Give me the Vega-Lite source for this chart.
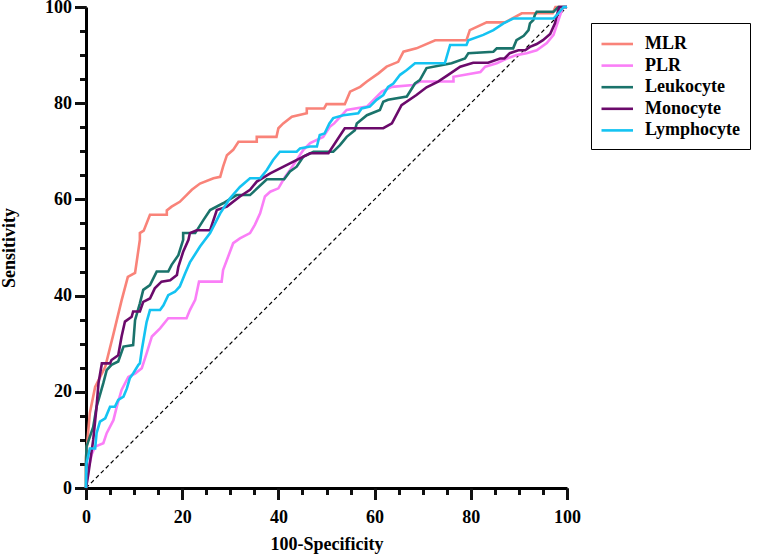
{
  "$schema": "https://vega.github.io/schema/vega-lite/v6.json",
  "autosize": "none",
  "padding": {"left": 86, "top": 7, "right": 201, "bottom": 68},
  "width": 481,
  "height": 481,
  "background": "white",
  "datasets": {
    "diag": [{"fpr": 0, "tpr": 0}, {"fpr": 100, "tpr": 100}],
    "roc": [
      {"series": "MLR", "fpr": 0, "tpr": 0}, {"series": "MLR", "fpr": 0, "tpr": 6.4}, {"series": "MLR", "fpr": 0.8, "tpr": 15.6}, {"series": "MLR", "fpr": 1.9, "tpr": 21}, {"series": "MLR", "fpr": 4, "tpr": 25.2}, {"series": "MLR", "fpr": 5.7, "tpr": 32}, {"series": "MLR", "fpr": 7.4, "tpr": 39}, {"series": "MLR", "fpr": 8.7, "tpr": 43.9}, {"series": "MLR", "fpr": 10.2, "tpr": 44.7}, {"series": "MLR", "fpr": 11.2, "tpr": 51.6}, {"series": "MLR", "fpr": 11.2, "tpr": 53}, {"series": "MLR", "fpr": 12, "tpr": 53.5}, {"series": "MLR", "fpr": 13.3, "tpr": 56.8}, {"series": "MLR", "fpr": 16.8, "tpr": 56.8}, {"series": "MLR", "fpr": 16.8, "tpr": 57.7}, {"series": "MLR", "fpr": 17.8, "tpr": 58.5}, {"series": "MLR", "fpr": 19.5, "tpr": 59.5}, {"series": "MLR", "fpr": 20.9, "tpr": 60.9}, {"series": "MLR", "fpr": 22, "tpr": 62}, {"series": "MLR", "fpr": 23.7, "tpr": 63.3}, {"series": "MLR", "fpr": 26.5, "tpr": 64.4}, {"series": "MLR", "fpr": 27.9, "tpr": 64.7}, {"series": "MLR", "fpr": 28.5, "tpr": 66.8}, {"series": "MLR", "fpr": 29.3, "tpr": 69.2}, {"series": "MLR", "fpr": 30.6, "tpr": 70.3}, {"series": "MLR", "fpr": 31.7, "tpr": 72}, {"series": "MLR", "fpr": 35.5, "tpr": 72}, {"series": "MLR", "fpr": 35.5, "tpr": 73}, {"series": "MLR", "fpr": 39.6, "tpr": 73}, {"series": "MLR", "fpr": 40, "tpr": 74.8}, {"series": "MLR", "fpr": 41, "tpr": 75.8}, {"series": "MLR", "fpr": 42.8, "tpr": 77.2}, {"series": "MLR", "fpr": 45.9, "tpr": 77.9}, {"series": "MLR", "fpr": 45.9, "tpr": 78.9}, {"series": "MLR", "fpr": 49.5, "tpr": 78.9}, {"series": "MLR", "fpr": 50, "tpr": 79.8}, {"series": "MLR", "fpr": 53.8, "tpr": 79.8}, {"series": "MLR", "fpr": 54.9, "tpr": 82.4}, {"series": "MLR", "fpr": 57, "tpr": 83.4}, {"series": "MLR", "fpr": 58.4, "tpr": 84.5}, {"series": "MLR", "fpr": 60.8, "tpr": 86.2}, {"series": "MLR", "fpr": 62.5, "tpr": 87.6}, {"series": "MLR", "fpr": 64.9, "tpr": 88.6}, {"series": "MLR", "fpr": 66, "tpr": 90.7}, {"series": "MLR", "fpr": 68.7, "tpr": 91.4}, {"series": "MLR", "fpr": 72.6, "tpr": 93.1}, {"series": "MLR", "fpr": 79.1, "tpr": 93.1}, {"series": "MLR", "fpr": 79.8, "tpr": 95.2}, {"series": "MLR", "fpr": 83.3, "tpr": 96.8}, {"series": "MLR", "fpr": 87.1, "tpr": 96.8}, {"series": "MLR", "fpr": 90.6, "tpr": 98.7}, {"series": "MLR", "fpr": 97, "tpr": 98.7}, {"series": "MLR", "fpr": 97.6, "tpr": 100}, {"series": "MLR", "fpr": 100, "tpr": 100},

      {"series": "PLR", "fpr": 0, "tpr": 0}, {"series": "PLR", "fpr": 0.5, "tpr": 4}, {"series": "PLR", "fpr": 1.2, "tpr": 7}, {"series": "PLR", "fpr": 1.9, "tpr": 8.6}, {"series": "PLR", "fpr": 3.6, "tpr": 9.3}, {"series": "PLR", "fpr": 4.3, "tpr": 11.4}, {"series": "PLR", "fpr": 5.7, "tpr": 14.1}, {"series": "PLR", "fpr": 6.4, "tpr": 16.9}, {"series": "PLR", "fpr": 7.4, "tpr": 20.4}, {"series": "PLR", "fpr": 8.8, "tpr": 23.1}, {"series": "PLR", "fpr": 10.2, "tpr": 23.8}, {"series": "PLR", "fpr": 11.6, "tpr": 24.9}, {"series": "PLR", "fpr": 12.6, "tpr": 28}, {"series": "PLR", "fpr": 13.7, "tpr": 31.5}, {"series": "PLR", "fpr": 15.4, "tpr": 33.2}, {"series": "PLR", "fpr": 17.1, "tpr": 35.3}, {"series": "PLR", "fpr": 20.9, "tpr": 35.3}, {"series": "PLR", "fpr": 21.6, "tpr": 37}, {"series": "PLR", "fpr": 22.7, "tpr": 39.1}, {"series": "PLR", "fpr": 23.5, "tpr": 42.9}, {"series": "PLR", "fpr": 28.2, "tpr": 42.9}, {"series": "PLR", "fpr": 28.5, "tpr": 45.3}, {"series": "PLR", "fpr": 30.6, "tpr": 50.9}, {"series": "PLR", "fpr": 32, "tpr": 51.9}, {"series": "PLR", "fpr": 34.1, "tpr": 53}, {"series": "PLR", "fpr": 35.1, "tpr": 54.7}, {"series": "PLR", "fpr": 36.2, "tpr": 57.1}, {"series": "PLR", "fpr": 37.2, "tpr": 60.6}, {"series": "PLR", "fpr": 38.3, "tpr": 61.6}, {"series": "PLR", "fpr": 40, "tpr": 62.3}, {"series": "PLR", "fpr": 41.4, "tpr": 64.7}, {"series": "PLR", "fpr": 42.4, "tpr": 66.1}, {"series": "PLR", "fpr": 43.8, "tpr": 68.2}, {"series": "PLR", "fpr": 45.2, "tpr": 70.3}, {"series": "PLR", "fpr": 46.6, "tpr": 71.7}, {"series": "PLR", "fpr": 49.3, "tpr": 73}, {"series": "PLR", "fpr": 50.7, "tpr": 75.1}, {"series": "PLR", "fpr": 51.6, "tpr": 75.8}, {"series": "PLR", "fpr": 54.2, "tpr": 78.6}, {"series": "PLR", "fpr": 58.4, "tpr": 79.3}, {"series": "PLR", "fpr": 61.5, "tpr": 82.4}, {"series": "PLR", "fpr": 63.6, "tpr": 83.4}, {"series": "PLR", "fpr": 68, "tpr": 83.8}, {"series": "PLR", "fpr": 69.4, "tpr": 84.5}, {"series": "PLR", "fpr": 76.4, "tpr": 84.5}, {"series": "PLR", "fpr": 76.4, "tpr": 85.5}, {"series": "PLR", "fpr": 82, "tpr": 86.5}, {"series": "PLR", "fpr": 83, "tpr": 87.6}, {"series": "PLR", "fpr": 85.4, "tpr": 88.3}, {"series": "PLR", "fpr": 87.5, "tpr": 89.3}, {"series": "PLR", "fpr": 89.5, "tpr": 90}, {"series": "PLR", "fpr": 91.6, "tpr": 90.4}, {"series": "PLR", "fpr": 93.7, "tpr": 91}, {"series": "PLR", "fpr": 95.8, "tpr": 92.5}, {"series": "PLR", "fpr": 97.2, "tpr": 94.2}, {"series": "PLR", "fpr": 98, "tpr": 96.6}, {"series": "PLR", "fpr": 98.7, "tpr": 98.7}, {"series": "PLR", "fpr": 99.2, "tpr": 100}, {"series": "PLR", "fpr": 100, "tpr": 100},

      {"series": "Leukocyte", "fpr": 0, "tpr": 0}, {"series": "Leukocyte", "fpr": 0, "tpr": 5}, {"series": "Leukocyte", "fpr": 0.1, "tpr": 8.6}, {"series": "Leukocyte", "fpr": 1.5, "tpr": 12.7}, {"series": "Leukocyte", "fpr": 2.2, "tpr": 16.9}, {"series": "Leukocyte", "fpr": 3.6, "tpr": 21.8}, {"series": "Leukocyte", "fpr": 4.3, "tpr": 24.5}, {"series": "Leukocyte", "fpr": 5.3, "tpr": 25.6}, {"series": "Leukocyte", "fpr": 6.7, "tpr": 26.3}, {"series": "Leukocyte", "fpr": 7.8, "tpr": 29.4}, {"series": "Leukocyte", "fpr": 9.8, "tpr": 29.7}, {"series": "Leukocyte", "fpr": 10.2, "tpr": 34.9}, {"series": "Leukocyte", "fpr": 11.2, "tpr": 38.4}, {"series": "Leukocyte", "fpr": 11.9, "tpr": 41.2}, {"series": "Leukocyte", "fpr": 13.3, "tpr": 42.2}, {"series": "Leukocyte", "fpr": 14.7, "tpr": 45}, {"series": "Leukocyte", "fpr": 17.1, "tpr": 45}, {"series": "Leukocyte", "fpr": 17.8, "tpr": 46.4}, {"series": "Leukocyte", "fpr": 19.2, "tpr": 48.4}, {"series": "Leukocyte", "fpr": 20.2, "tpr": 51.6}, {"series": "Leukocyte", "fpr": 20.2, "tpr": 53}, {"series": "Leukocyte", "fpr": 22.7, "tpr": 53}, {"series": "Leukocyte", "fpr": 24.4, "tpr": 55.7}, {"series": "Leukocyte", "fpr": 25.8, "tpr": 57.8}, {"series": "Leukocyte", "fpr": 28.5, "tpr": 59.2}, {"series": "Leukocyte", "fpr": 31.3, "tpr": 60.9}, {"series": "Leukocyte", "fpr": 34.1, "tpr": 60.9}, {"series": "Leukocyte", "fpr": 37.6, "tpr": 64.2}, {"series": "Leukocyte", "fpr": 41.2, "tpr": 64.2}, {"series": "Leukocyte", "fpr": 42.4, "tpr": 65.8}, {"series": "Leukocyte", "fpr": 43.8, "tpr": 66.8}, {"series": "Leukocyte", "fpr": 45.2, "tpr": 68.9}, {"series": "Leukocyte", "fpr": 47.3, "tpr": 69.9}, {"series": "Leukocyte", "fpr": 51.4, "tpr": 69.9}, {"series": "Leukocyte", "fpr": 52.8, "tpr": 71.3}, {"series": "Leukocyte", "fpr": 54.2, "tpr": 73}, {"series": "Leukocyte", "fpr": 55.9, "tpr": 74.4}, {"series": "Leukocyte", "fpr": 56.3, "tpr": 75.8}, {"series": "Leukocyte", "fpr": 58.4, "tpr": 77.5}, {"series": "Leukocyte", "fpr": 61.1, "tpr": 78.6}, {"series": "Leukocyte", "fpr": 61.8, "tpr": 80.3}, {"series": "Leukocyte", "fpr": 62.8, "tpr": 80.7}, {"series": "Leukocyte", "fpr": 66.7, "tpr": 81.4}, {"series": "Leukocyte", "fpr": 68.4, "tpr": 84.1}, {"series": "Leukocyte", "fpr": 69.4, "tpr": 84.8}, {"series": "Leukocyte", "fpr": 70.8, "tpr": 87.3}, {"series": "Leukocyte", "fpr": 76, "tpr": 88.3}, {"series": "Leukocyte", "fpr": 78.8, "tpr": 89.3}, {"series": "Leukocyte", "fpr": 79.5, "tpr": 90.4}, {"series": "Leukocyte", "fpr": 84.7, "tpr": 90.7}, {"series": "Leukocyte", "fpr": 85.4, "tpr": 91.4}, {"series": "Leukocyte", "fpr": 88.8, "tpr": 91.4}, {"series": "Leukocyte", "fpr": 89.5, "tpr": 93.1}, {"series": "Leukocyte", "fpr": 91, "tpr": 94}, {"series": "Leukocyte", "fpr": 92, "tpr": 95.2}, {"series": "Leukocyte", "fpr": 92.3, "tpr": 96.6}, {"series": "Leukocyte", "fpr": 93, "tpr": 97.3}, {"series": "Leukocyte", "fpr": 93.3, "tpr": 98.3}, {"series": "Leukocyte", "fpr": 93.7, "tpr": 99}, {"series": "Leukocyte", "fpr": 97.2, "tpr": 99}, {"series": "Leukocyte", "fpr": 98.2, "tpr": 100}, {"series": "Leukocyte", "fpr": 100, "tpr": 100},

      {"series": "Monocyte", "fpr": 0, "tpr": 0}, {"series": "Monocyte", "fpr": 0.5, "tpr": 3}, {"series": "Monocyte", "fpr": 1.5, "tpr": 10}, {"series": "Monocyte", "fpr": 2.2, "tpr": 16.9}, {"series": "Monocyte", "fpr": 2.6, "tpr": 21.8}, {"series": "Monocyte", "fpr": 3.3, "tpr": 25.9}, {"series": "Monocyte", "fpr": 5, "tpr": 25.9}, {"series": "Monocyte", "fpr": 5.3, "tpr": 26.6}, {"series": "Monocyte", "fpr": 6.7, "tpr": 27.6}, {"series": "Monocyte", "fpr": 7.4, "tpr": 31.5}, {"series": "Monocyte", "fpr": 8.1, "tpr": 34.6}, {"series": "Monocyte", "fpr": 9.5, "tpr": 35.6}, {"series": "Monocyte", "fpr": 9.8, "tpr": 36.7}, {"series": "Monocyte", "fpr": 11.2, "tpr": 36.7}, {"series": "Monocyte", "fpr": 11.9, "tpr": 38.7}, {"series": "Monocyte", "fpr": 13.3, "tpr": 39.4}, {"series": "Monocyte", "fpr": 14.3, "tpr": 41.5}, {"series": "Monocyte", "fpr": 15.7, "tpr": 42.9}, {"series": "Monocyte", "fpr": 17.5, "tpr": 43.2}, {"series": "Monocyte", "fpr": 18.9, "tpr": 44.3}, {"series": "Monocyte", "fpr": 19.2, "tpr": 46}, {"series": "Monocyte", "fpr": 20.2, "tpr": 49.1}, {"series": "Monocyte", "fpr": 21.3, "tpr": 51.6}, {"series": "Monocyte", "fpr": 21.6, "tpr": 53}, {"series": "Monocyte", "fpr": 23, "tpr": 53.6}, {"series": "Monocyte", "fpr": 25.8, "tpr": 53.6}, {"series": "Monocyte", "fpr": 27.2, "tpr": 57.8}, {"series": "Monocyte", "fpr": 29.3, "tpr": 58.5}, {"series": "Monocyte", "fpr": 32, "tpr": 60.6}, {"series": "Monocyte", "fpr": 34.1, "tpr": 62}, {"series": "Monocyte", "fpr": 35.5, "tpr": 63.7}, {"series": "Monocyte", "fpr": 38.3, "tpr": 65.4}, {"series": "Monocyte", "fpr": 42.4, "tpr": 67.5}, {"series": "Monocyte", "fpr": 46.6, "tpr": 69.6}, {"series": "Monocyte", "fpr": 50.4, "tpr": 69.6}, {"series": "Monocyte", "fpr": 53.8, "tpr": 74.8}, {"series": "Monocyte", "fpr": 61.8, "tpr": 74.8}, {"series": "Monocyte", "fpr": 63.6, "tpr": 75.8}, {"series": "Monocyte", "fpr": 65.6, "tpr": 79.6}, {"series": "Monocyte", "fpr": 68.7, "tpr": 81.7}, {"series": "Monocyte", "fpr": 70.8, "tpr": 83.3}, {"series": "Monocyte", "fpr": 73.2, "tpr": 84.5}, {"series": "Monocyte", "fpr": 75.3, "tpr": 85.9}, {"series": "Monocyte", "fpr": 77.8, "tpr": 87.6}, {"series": "Monocyte", "fpr": 80.5, "tpr": 88.4}, {"series": "Monocyte", "fpr": 83.6, "tpr": 88.4}, {"series": "Monocyte", "fpr": 86.1, "tpr": 89.3}, {"series": "Monocyte", "fpr": 87, "tpr": 89.3}, {"series": "Monocyte", "fpr": 88.1, "tpr": 90.4}, {"series": "Monocyte", "fpr": 89.9, "tpr": 91}, {"series": "Monocyte", "fpr": 91.3, "tpr": 91}, {"series": "Monocyte", "fpr": 92.3, "tpr": 91.7}, {"series": "Monocyte", "fpr": 93.7, "tpr": 92.3}, {"series": "Monocyte", "fpr": 95, "tpr": 93.1}, {"series": "Monocyte", "fpr": 96.5, "tpr": 94.4}, {"series": "Monocyte", "fpr": 97.5, "tpr": 96.6}, {"series": "Monocyte", "fpr": 98, "tpr": 98.7}, {"series": "Monocyte", "fpr": 98.4, "tpr": 100}, {"series": "Monocyte", "fpr": 100, "tpr": 100},

      {"series": "Lymphocyte", "fpr": 0, "tpr": 0}, {"series": "Lymphocyte", "fpr": 0.1, "tpr": 5.1}, {"series": "Lymphocyte", "fpr": 0.8, "tpr": 8.2}, {"series": "Lymphocyte", "fpr": 1.9, "tpr": 8.2}, {"series": "Lymphocyte", "fpr": 2.2, "tpr": 11.4}, {"series": "Lymphocyte", "fpr": 2.9, "tpr": 13.8}, {"series": "Lymphocyte", "fpr": 4, "tpr": 14.5}, {"series": "Lymphocyte", "fpr": 5, "tpr": 16.9}, {"series": "Lymphocyte", "fpr": 6, "tpr": 16.9}, {"series": "Lymphocyte", "fpr": 6.7, "tpr": 18.3}, {"series": "Lymphocyte", "fpr": 7.8, "tpr": 19}, {"series": "Lymphocyte", "fpr": 8.5, "tpr": 20.7}, {"series": "Lymphocyte", "fpr": 9.1, "tpr": 22.8}, {"series": "Lymphocyte", "fpr": 9.8, "tpr": 23.8}, {"series": "Lymphocyte", "fpr": 10.9, "tpr": 25.6}, {"series": "Lymphocyte", "fpr": 11.2, "tpr": 25.9}, {"series": "Lymphocyte", "fpr": 11.6, "tpr": 28.7}, {"series": "Lymphocyte", "fpr": 12.3, "tpr": 32.8}, {"series": "Lymphocyte", "fpr": 12.6, "tpr": 34.5}, {"series": "Lymphocyte", "fpr": 13.3, "tpr": 37}, {"series": "Lymphocyte", "fpr": 15.4, "tpr": 37}, {"series": "Lymphocyte", "fpr": 16.1, "tpr": 38}, {"series": "Lymphocyte", "fpr": 17.1, "tpr": 40.1}, {"series": "Lymphocyte", "fpr": 18.5, "tpr": 40.8}, {"series": "Lymphocyte", "fpr": 19.5, "tpr": 41.9}, {"series": "Lymphocyte", "fpr": 20.6, "tpr": 44.6}, {"series": "Lymphocyte", "fpr": 21.6, "tpr": 46.9}, {"series": "Lymphocyte", "fpr": 23.7, "tpr": 50.2}, {"series": "Lymphocyte", "fpr": 25.8, "tpr": 53}, {"series": "Lymphocyte", "fpr": 27.9, "tpr": 57.1}, {"series": "Lymphocyte", "fpr": 29.9, "tpr": 60.2}, {"series": "Lymphocyte", "fpr": 32, "tpr": 62.6}, {"series": "Lymphocyte", "fpr": 34.1, "tpr": 64.4}, {"series": "Lymphocyte", "fpr": 36.2, "tpr": 64.4}, {"series": "Lymphocyte", "fpr": 37.6, "tpr": 66.1}, {"series": "Lymphocyte", "fpr": 38.9, "tpr": 68.2}, {"series": "Lymphocyte", "fpr": 40.3, "tpr": 69.9}, {"series": "Lymphocyte", "fpr": 43.8, "tpr": 69.9}, {"series": "Lymphocyte", "fpr": 44.5, "tpr": 70.6}, {"series": "Lymphocyte", "fpr": 46.6, "tpr": 71}, {"series": "Lymphocyte", "fpr": 48, "tpr": 71}, {"series": "Lymphocyte", "fpr": 48.6, "tpr": 73.4}, {"series": "Lymphocyte", "fpr": 49.6, "tpr": 73.7}, {"series": "Lymphocyte", "fpr": 50.6, "tpr": 75.8}, {"series": "Lymphocyte", "fpr": 51.4, "tpr": 76.9}, {"series": "Lymphocyte", "fpr": 53.5, "tpr": 77.5}, {"series": "Lymphocyte", "fpr": 56.6, "tpr": 77.9}, {"series": "Lymphocyte", "fpr": 57.3, "tpr": 78.9}, {"series": "Lymphocyte", "fpr": 59, "tpr": 79.3}, {"series": "Lymphocyte", "fpr": 60.4, "tpr": 80.7}, {"series": "Lymphocyte", "fpr": 61.8, "tpr": 81.7}, {"series": "Lymphocyte", "fpr": 62.8, "tpr": 83.4}, {"series": "Lymphocyte", "fpr": 63.9, "tpr": 84.1}, {"series": "Lymphocyte", "fpr": 65.3, "tpr": 85.9}, {"series": "Lymphocyte", "fpr": 66.7, "tpr": 86.9}, {"series": "Lymphocyte", "fpr": 68.4, "tpr": 88.3}, {"series": "Lymphocyte", "fpr": 74.6, "tpr": 88.3}, {"series": "Lymphocyte", "fpr": 75.7, "tpr": 92.1}, {"series": "Lymphocyte", "fpr": 79.1, "tpr": 92.1}, {"series": "Lymphocyte", "fpr": 79.5, "tpr": 93.1}, {"series": "Lymphocyte", "fpr": 82.6, "tpr": 94.2}, {"series": "Lymphocyte", "fpr": 84.7, "tpr": 95.2}, {"series": "Lymphocyte", "fpr": 86.8, "tpr": 96.6}, {"series": "Lymphocyte", "fpr": 88.8, "tpr": 97.6}, {"series": "Lymphocyte", "fpr": 97.2, "tpr": 97.6}, {"series": "Lymphocyte", "fpr": 98.2, "tpr": 98.7}, {"series": "Lymphocyte", "fpr": 99.3, "tpr": 100}, {"series": "Lymphocyte", "fpr": 100, "tpr": 100}
    ]
  },
  "layer": [
    {
      "data": {"name": "diag"},
      "mark": {"type": "line", "color": "black", "strokeWidth": 1.2, "strokeDash": [4, 3]},
      "encoding": {
        "x": {
          "field": "fpr",
          "type": "quantitative",
          "scale": {"domain": [0, 100], "nice": false, "zero": false},
          "axis": {
            "orient": "bottom",
            "title": null,
            "labels": false,
            "ticks": true,
            "values": [0, 5, 10, 15, 20, 25, 30, 35, 40, 45, 50, 55, 60, 65, 70, 75, 80, 85, 90, 95, 100],
            "tickSize": 6.5,
            "tickColor": "#111111",
            "tickWidth": 3,
            "domain": true
          }
        },
        "y": {
          "field": "tpr",
          "type": "quantitative",
          "scale": {"domain": [0, 100], "nice": false, "zero": false},
          "axis": {
            "orient": "left",
            "title": null,
            "labels": false,
            "ticks": true,
            "values": [0, 5, 10, 15, 20, 25, 30, 35, 40, 45, 50, 55, 60, 65, 70, 75, 80, 85, 90, 95, 100],
            "tickSize": 6.5,
            "tickColor": "#111111",
            "tickWidth": 3,
            "domain": true
          }
        }
      }
    },
    {
      "data": {"name": "roc"},
      "mark": {"type": "line", "strokeJoin": "miter"},
      "encoding": {
        "x": {
          "field": "fpr",
          "type": "quantitative",
          "axis": {
            "orient": "bottom",
            "title": "100-Specificity",
            "values": [0, 20, 40, 60, 80, 100],
            "ticks": true,
            "tickSize": 11.5,
            "tickColor": "#111111",
            "tickWidth": 3,
            "domain": false,
            "labelPadding": 8.5,
            "titlePadding": 9
          }
        },
        "y": {
          "field": "tpr",
          "type": "quantitative",
          "axis": {
            "orient": "left",
            "title": "Sensitivity",
            "values": [0, 20, 40, 60, 80, 100],
            "ticks": true,
            "tickSize": 11.5,
            "tickColor": "#111111",
            "tickWidth": 3,
            "domain": false,
            "labelPadding": 3,
            "titlePadding": 26
          }
        },
        "order": {"value": null},
        "color": {
          "field": "series",
          "type": "nominal",
          "scale": {
            "domain": ["MLR", "PLR", "Leukocyte", "Monocyte", "Lymphocyte"],
            "range": ["#f98379", "#fa7ef7", "#1a736b", "#6b0a6b", "#14c3f2"]
          },
          "legend": {
            "title": null,
            "orient": "none",
            "legendX": 505,
            "legendY": 16,
            "symbolType": "M -1 0 L 2 0",
            "symbolSize": 441,
            "symbolStrokeWidth": 3.5,
            "labelOffset": 21,
            "rowPadding": 0.6,
            "padding": 9,
            "strokeColor": "black"
          }
        },
        "strokeWidth": {
          "field": "series",
          "type": "nominal",
          "scale": {
            "domain": ["MLR", "PLR", "Leukocyte", "Monocyte", "Lymphocyte"],
            "range": [2.6, 2.6, 3.4, 3.4, 3.4]
          },
          "legend": null
        }
      }
    }
  ],
  "resolve": {"axis": {"x": "independent", "y": "independent"}},
  "config": {
    "view": {"stroke": null},
    "axis": {
      "grid": false,
      "ticks": true,
      "domainColor": "black",
      "domainWidth": 3,
      "labelFont": "Liberation Serif, Times New Roman, serif",
      "labelFontWeight": "bold",
      "labelFontSize": 18,
      "labelColor": "black",
      "labelOverlap": false,
      "labelFlush": false,
      "titleFont": "Liberation Serif, Times New Roman, serif",
      "titleFontWeight": "bold",
      "titleFontSize": 18,
      "titleColor": "black"
    },
    "legend": {
      "labelFont": "Liberation Serif, Times New Roman, serif",
      "labelFontWeight": "bold",
      "labelFontSize": 18,
      "labelColor": "black"
    }
  }
}
